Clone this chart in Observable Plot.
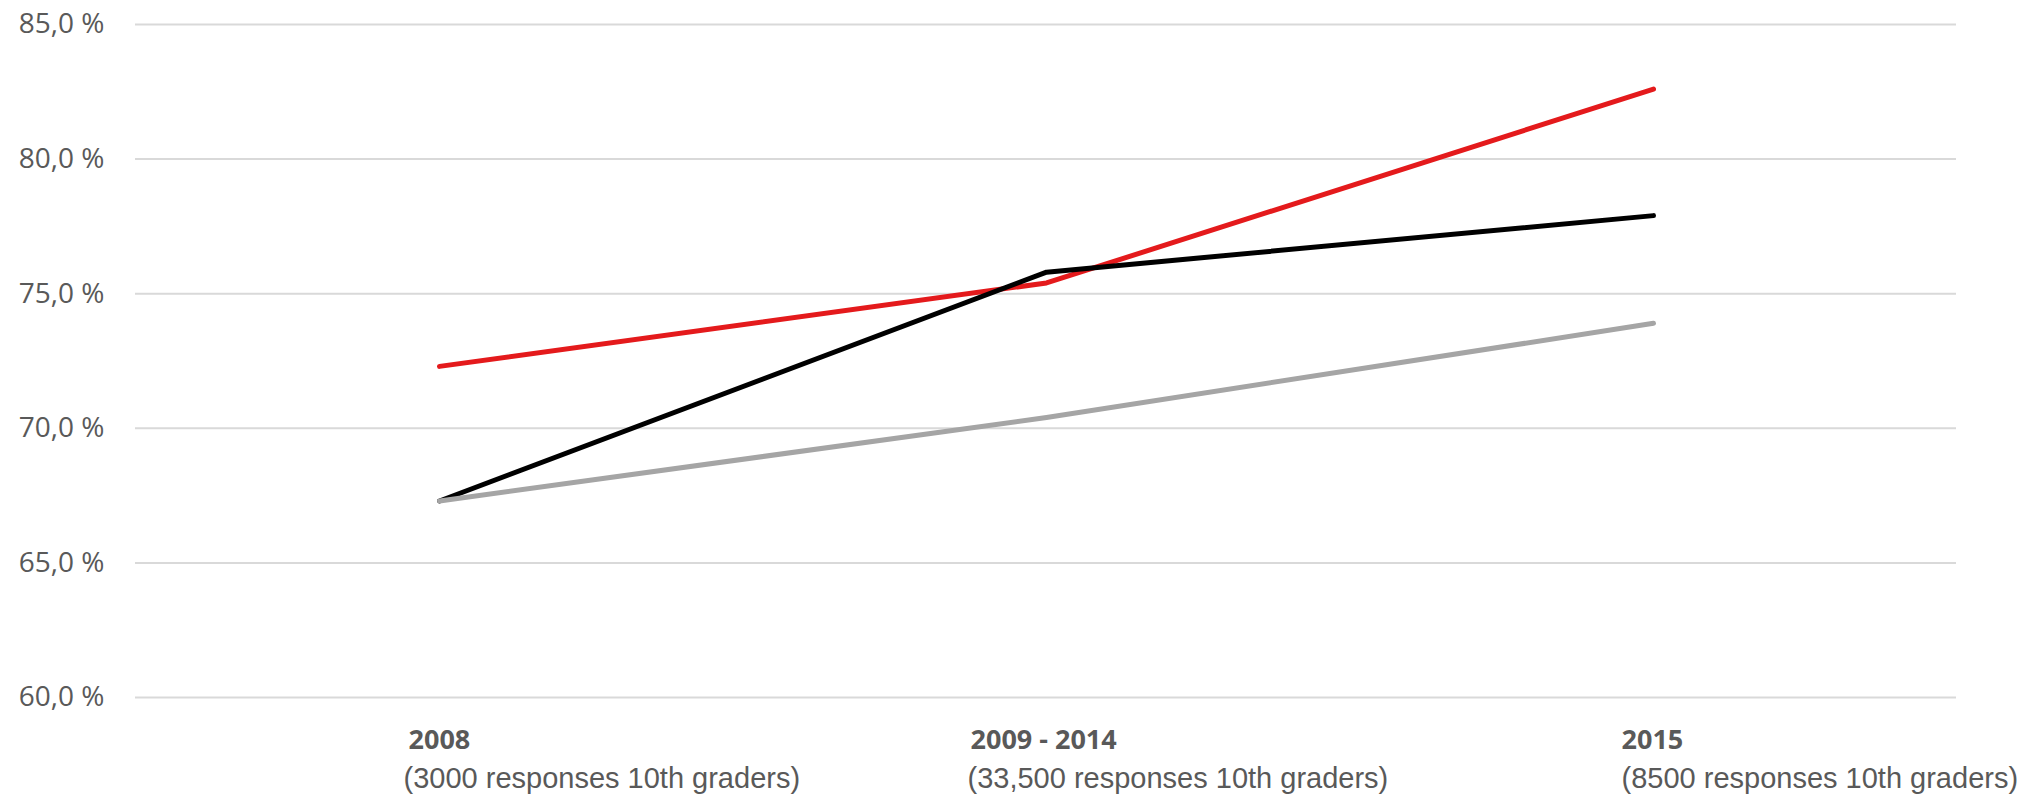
<!DOCTYPE html>
<html>
<head>
<meta charset="utf-8">
<script src="https://cdn.jsdelivr.net/npm/d3@7"></script>
<script src="https://cdn.jsdelivr.net/npm/@observablehq/plot@0.6"></script>
<style>
  html, body { margin: 0; padding: 0; background: #fff; }
  #chart svg { display: block; }
</style>
</head>
<body>
<div id="chart"></div>
<script>
// Survey waves on the x axis
const periods = ["2008", "2009 - 2014", "2015"];
const responseNotes = [
  "(3000 responses 10th graders)",
  "(33,500 responses 10th graders)",
  "(8500 responses 10th graders)"
];

// Share of respondents (%) per wave, one array per line
const redValues   = [72.3, 75.4, 82.6];
const blackValues = [67.3, 75.8, 77.9];
const grayValues  = [67.3, 70.4, 73.9];

// Y axis ticks
const yTicks = [60, 65, 70, 75, 80, 85];

const series = [
  {values: redValues, color: "#e41a1c"},
  {values: blackValues, color: "#000000"},
  {values: grayValues, color: "#a5a5a5"}
];

const rows = series.flatMap((s, si) =>
  s.values.map((v, i) => ({period: periods[i], value: v, series: si}))
);

const labelRows = periods.map((p, i) => ({period: p, note: responseNotes[i]}));

// Horizontal shift of each category's label block (left edge relative to the point)
const labelShift = [-31, -76, -32];
const noteShift = [-36, -79, -32];

const fmt = d => d.toFixed(1).replace(".", ",") + " %";

const labelMarks = labelRows.flatMap((r, i) => [
  Plot.text([r], {
    x: "period", text: "period", frameAnchor: "bottom",
    textAnchor: "start", lineAnchor: "bottom", dx: labelShift[i], dy: 51,
    fontFamily: "Open Sans", fontWeight: "bold", fontSize: 27, fill: "#595959"
  }),
  Plot.text([r], {
    x: "period", text: "note", frameAnchor: "bottom",
    textAnchor: "start", lineAnchor: "bottom", dx: noteShift[i], dy: 90,
    fontFamily: "Liberation Sans", fontSize: 29, fill: "#595959"
  })
]);

const chart = Plot.plot({
  width: 2038,
  height: 798,
  marginLeft: 135,
  marginRight: 82,
  marginTop: 24,
  marginBottom: 101,
  style: {background: "#fff", overflow: "visible"},
  x: {type: "point", domain: periods, padding: 0.5, axis: null},
  y: {domain: [60, 85], axis: null},
  marks: [
    Plot.ruleY(yTicks, {stroke: "#d9d9d9", strokeWidth: 2}),
    Plot.axisY(yTicks, {
      tickSize: 0, tickPadding: 31, tickFormat: fmt,
      fontFamily: "Open Sans", fontSize: 28, fill: "#595959", label: null
    }),
    ...series.map((s, si) =>
      Plot.line(rows.filter(d => d.series === si), {
        x: "period", y: "value", stroke: s.color,
        strokeWidth: 5, strokeLinecap: "round", strokeLinejoin: "round"
      })
    ),
    ...labelMarks
  ]
});

document.getElementById("chart").appendChild(chart);
</script>
</body>
</html>
